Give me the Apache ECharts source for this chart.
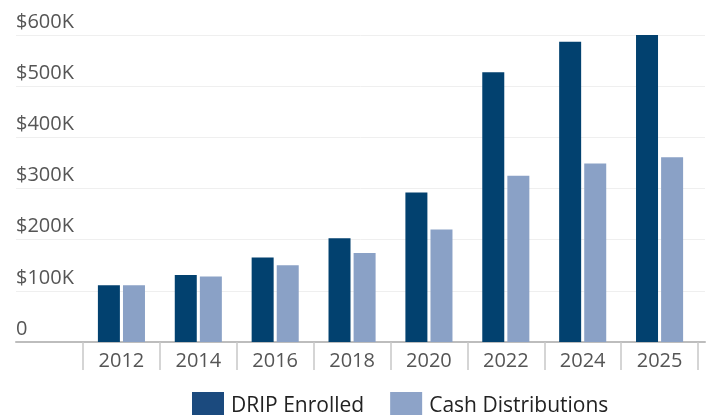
<!DOCTYPE html>
<html>
<head>
<meta charset="utf-8">
<script src="https://cdn.jsdelivr.net/npm/echarts@6/dist/echarts.min.js"></script>
<style>html,body{margin:0;padding:0;background:#fff}#c{width:706px;height:415px}</style>
</head>
<body>
<div id="c"></div>
<script>
var categories = ['2012','2014','2016','2018','2020','2022','2024','2025'];
var dripEnrolled = [111000, 131000, 165000, 203000, 292000, 527000, 587000, 600000];
var cashDistributions = [111000, 128000, 150000, 174000, 220000, 325000, 349000, 361000];
var yTicks = [0, 100000, 200000, 300000, 400000, 500000, 600000];
var yTickLabels = ['0', '$100K', '$200K', '$300K', '$400K', '$500K', '$600K'];

var FONT = 'Open Sans';
var chart = echarts.init(document.getElementById('c'), null, {renderer: 'canvas'});
chart.setOption({
  animation: false,
  textStyle: {fontFamily: FONT},
  grid: [
    {left: 83, right: 8, top: 35, bottom: 73},
    {left: 16, right: 1, top: 35, bottom: 73}
  ],
  legend: {
    left: 187, top: 387,
    itemWidth: 32, itemHeight: 28, itemGap: 26,
    icon: 'rect',
    textStyle: {fontSize: 21, color: '#222', fontFamily: FONT, padding: [0, 0, 0, 2]},
    data: [
      {name: 'DRIP Enrolled', itemStyle: {color: '#1B4A7E'}},
      {name: 'Cash Distributions', itemStyle: {color: '#8DA3C8'}}
    ]
  },
  xAxis: [
    {
      type: 'category', gridIndex: 0, data: categories,
      axisLine: {show: false},
      axisTick: {show: true, length: 28, lineStyle: {color: '#c8c8c8', width: 1.5}},
      axisLabel: {fontSize: 20, color: '#555', margin: 9, fontFamily: FONT}
    },
    {
      type: 'value', gridIndex: 1, min: 0, max: 1,
      axisLine: {show: true, onZero: false, lineStyle: {color: '#bdbdbd', width: 2}},
      axisTick: {show: false}, axisLabel: {show: false}, splitLine: {show: false}
    }
  ],
  yAxis: [
    {
      type: 'value', gridIndex: 0, min: 0, max: 600000, interval: 100000,
      axisLine: {show: false}, axisTick: {show: false}, axisLabel: {show: false},
      splitLine: {show: false}
    },
    {
      type: 'value', gridIndex: 1, min: 0, max: 600000, interval: 100000,
      axisLine: {show: false}, axisTick: {show: false},
      splitLine: {show: true, lineStyle: {color: '#efefef', width: 1}},
      axisLabel: {
        inside: true, margin: 0, verticalAlign: 'bottom', lineHeight: 20,
        padding: [0, 0, 3, 0],
        fontSize: 20, color: '#555', fontFamily: FONT,
        formatter: function (v) { var i = yTicks.indexOf(v); return i >= 0 ? yTickLabels[i] : ''; }
      }
    }
  ],
  series: [
    {
      name: 'DRIP Enrolled', type: 'bar', xAxisIndex: 0, yAxisIndex: 0,
      data: dripEnrolled, barWidth: 22, barGap: '14%',
      itemStyle: {color: '#02416F'}
    },
    {
      name: 'Cash Distributions', type: 'bar', xAxisIndex: 0, yAxisIndex: 0,
      data: cashDistributions, barWidth: 22, barGap: '14%',
      itemStyle: {color: '#8AA1C6'}
    }
  ]
});
</script>
</body>
</html>
